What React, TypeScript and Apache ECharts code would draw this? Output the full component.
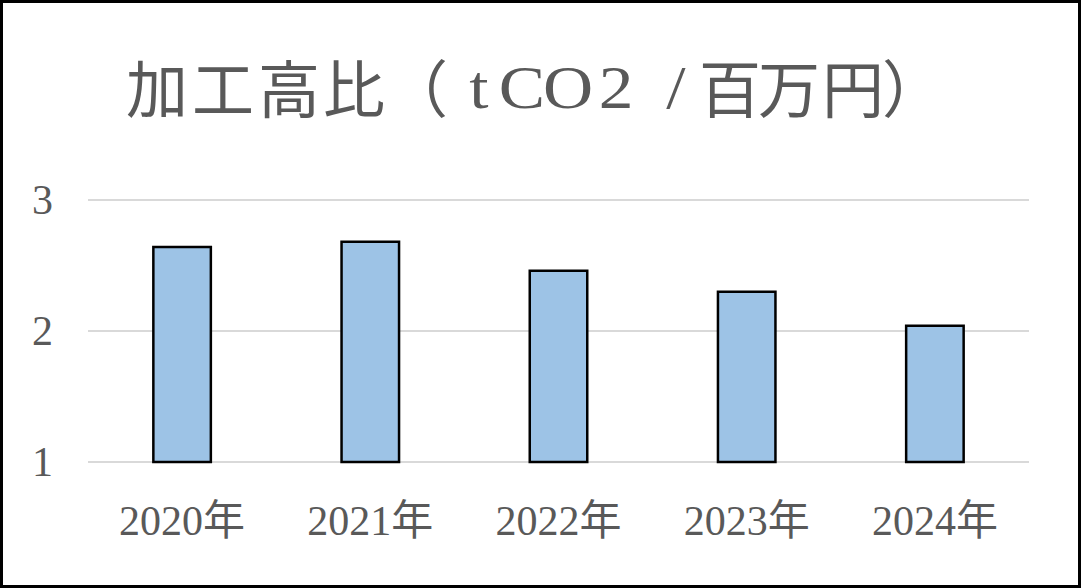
import React, { useEffect, useRef } from "react";
import * as echarts from "echarts";

const categories = ["2020年", "2021年", "2022年", "2023年", "2024年"];
const values = [2.65, 2.69, 2.47, 2.31, 2.05];
const titleChars = ["加", "工", "高", "比", "（", "t", "C", "O", "2", "/", "百", "万", "円", "）"];

// layout: horizontal centres of the title glyph boxes (pixels)
const titleGlyphX = [157, 223, 289, 354, 417, 479, 522, 568, 616, 676, 730, 789, 853, 913];

const FONT = "'Liberation Serif', 'Noto Sans CJK JP', serif";
const CJK = "'Noto Sans CJK JP', sans-serif";
const LAT = "'Liberation Serif', serif";

export default function App() {
  const ref = useRef<HTMLDivElement>(null);
  useEffect(() => {
    document.body.style.margin = "0";
    const chart = echarts.init(ref.current!, null, { renderer: "svg" });
    const titleElems = titleChars.map((ch, i) => {
      const isLatin = /[A-Za-z0-9\/]/.test(ch);
      return {
        type: "text",
        x: titleGlyphX[i],
        y: isLatin ? 87 : 86,
        scaleX: isLatin ? 1.12 : 1,
        style: {
          text: ch,
          fill: "#595959",
          fontSize: 62,
          fontFamily: isLatin ? LAT : CJK,
          align: "center",
          verticalAlign: "middle",
        },
      };
    });
    chart.setOption({
      animation: false,
      backgroundColor: "#ffffff",
      graphic: { elements: titleElems },
      grid: { left: 88, right: 52, top: 200, bottom: 126, containLabel: false },
      xAxis: {
        type: "category",
        data: categories,
        axisLine: { show: false },
        axisTick: { show: false },
        axisLabel: { fontFamily: FONT, fontSize: 42, color: "#595959", margin: 38 },
      },
      yAxis: {
        type: "value",
        min: 1,
        max: 3,
        interval: 1,
        axisLine: { show: false },
        axisTick: { show: false },
        splitLine: { lineStyle: { color: "#d9d9d9", width: 2 } },
        axisLabel: { fontFamily: FONT, fontSize: 42, color: "#595959", margin: 35 },
      },
      series: [
        {
          type: "bar",
          data: values,
          barWidth: 60,
          itemStyle: { color: "#9dc3e6", borderColor: "#000000", borderWidth: 2.5 },
        },
      ],
    });
    return () => chart.dispose();
  }, []);
  return (
    <div style={{ position: "fixed", left: 0, top: 0, width: 1081, height: 588 }}>
      <div ref={ref} style={{ position: "absolute", left: 0, top: 0, width: 1081, height: 588 }} />
      <div
        style={{
          position: "absolute",
          left: 0,
          top: 0,
          width: 1081,
          height: 588,
          border: "3px solid #000",
          boxSizing: "border-box",
          pointerEvents: "none",
        }}
      />
    </div>
  );
}
